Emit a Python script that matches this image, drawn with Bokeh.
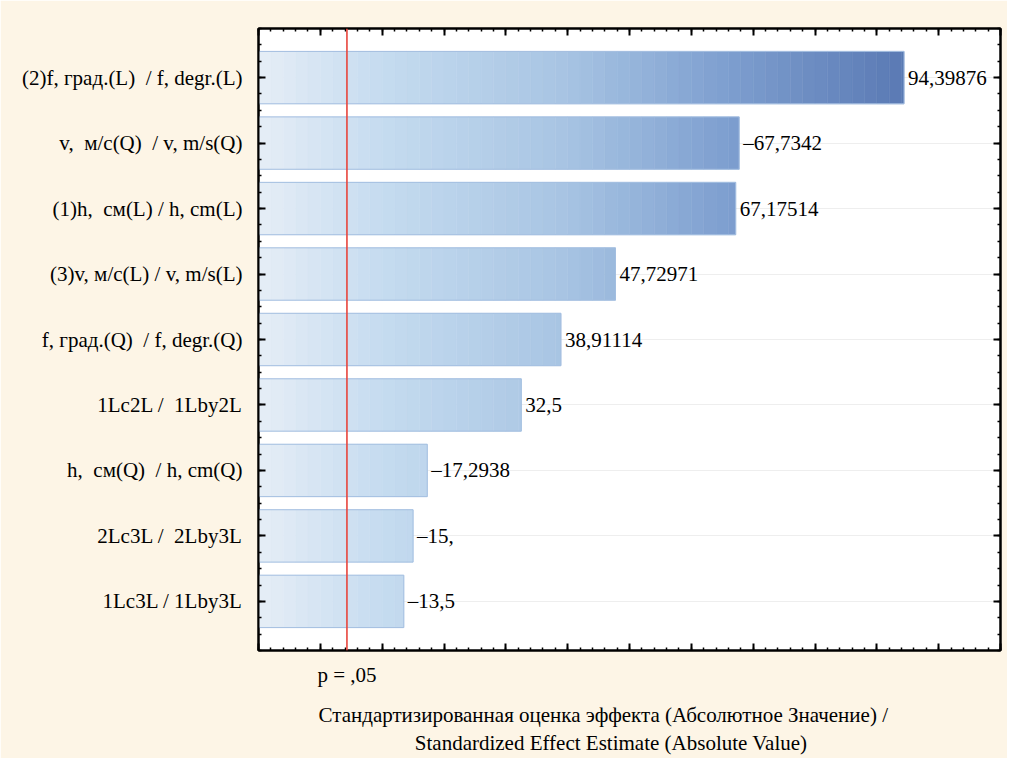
import numpy as np
from bokeh.plotting import figure
from bokeh.models import Range1d, FixedTicker, LinearAxis, Span, ColumnDataSource
from bokeh.core.properties import value
from bokeh.embed import file_html
from bokeh.resources import INLINE

# ---- data ----
NB = "\u00a0"
categories = [
    "(2)f, град.(L)" + NB + " / f, degr.(L)",
    "v," + NB + " м/с(Q)" + NB + " / v, m/s(Q)",
    "(1)h," + NB + " см(L) / h, cm(L)",
    "(3)v, м/с(L) / v, m/s(L)",
    "f, град.(Q)" + NB + " / f, degr.(Q)",
    "1Lс2L /" + NB + " 1Lby2L",
    "h," + NB + " см(Q)" + NB + " / h, cm(Q)",
    "2Lс3L /" + NB + " 2Lby3L",
    "1Lс3L / 1Lby3L",
]
effects = [94.39876, -67.7342, 67.17514, 47.72971, 38.91114, 32.5, -17.2938, -15.0, -13.5]
value_labels = ["94,39876", "–67,7342", "67,17514", "47,72971", "38,91114",
                "32,5", "–17,2938", "–15,", "–13,5"]
p_critical = 4.303
p_label = "p = ,05"
x_title = ("Стандартизированная оценка эффекта (Абсолютное Значение) /" + NB * 10 + "\n"
           "Standardized Effect Estimate (Absolute Value)" + NB * 7)
x_start, x_end = -10, 110

FONT = "Liberation Serif"
CREAM = "#FDF5E6"
FS = "21px"

n = len(categories)
idx = list(range(n))
abs_vals = [abs(v) for v in effects]

p = figure(frame_width=742, frame_height=622,
           x_range=Range1d(x_start, x_end), y_range=Range1d(n - 0.25, -0.75),
           output_backend="svg", toolbar_location=None,
           min_border_left=258, min_border_right=7, min_border_top=28, min_border_bottom=104)
p.border_fill_color = CREAM
p.background_fill_color = "white"
p.outline_line_color = "black"
p.outline_line_width = 2

# gradient strips (colour depends on absolute x position)
stop_x = [-10, 10, 40, 65, 95]
stop_c = [(0xE6, 0xEE, 0xF7), (0xC6, 0xDC, 0xF0), (0xA7, 0xC4, 0xE3), (0x7F, 0xA0, 0xD0), (0x5A, 0x79, 0xB4)]

def grad(xv):
    r = np.interp(xv, stop_x, [c[0] for c in stop_c])
    g = np.interp(xv, stop_x, [c[1] for c in stop_c])
    b = np.interp(xv, stop_x, [c[2] for c in stop_c])
    return "#%02x%02x%02x" % (int(r), int(g), int(b))

L, R, B, T, C = [], [], [], [], []
for i, a in zip(idx, abs_vals):
    edges = np.append(np.arange(x_start, a, 2.0), a)
    for l, r in zip(edges[:-1], edges[1:]):
        L.append(l); R.append(r); B.append(i - 0.4); T.append(i + 0.4)
        C.append(grad((l + r) / 2))
strips = ColumnDataSource(dict(left=L, right=R, bottom=B, top=T, color=C))
p.quad(left="left", right="right", bottom="bottom", top="top", fill_color="color",
       line_color="color", line_width=0.5, source=strips)

bars = ColumnDataSource(dict(y=idx, right=abs_vals, lab=value_labels))
p.hbar(y="y", left=x_start, right="right", height=0.8, fill_color=None,
       line_color="#A3BEE0", line_width=1, source=bars)
p.text(x="right", y="y", text="lab", x_offset=4, text_baseline="middle",
       text_font=value(FONT), text_font_size=FS, text_color="black", source=bars)

p.add_layout(Span(location=p_critical, dimension="height", line_color="#E8453C", line_width=1.6))

# tickers
xticks = list(range(x_start, x_end + 1, 10))
xt = FixedTicker(ticks=xticks, minor_ticks=list(range(x_start, x_end + 1, 2)))
yt = FixedTicker(ticks=idx, minor_ticks=list(np.arange(-0.75, n, 0.25)))

def style_axis(ax):
    ax.axis_line_color = "black"
    ax.axis_line_width = 2
    ax.major_tick_in = 7
    ax.major_tick_out = 0
    ax.minor_tick_in = 3
    ax.minor_tick_out = 0
    ax.major_tick_line_width = 2
    ax.minor_tick_line_width = 1.5
    ax.major_tick_line_color = "black"
    ax.minor_tick_line_color = "black"

blank_x = {t: "" for t in xticks}
blank_y = {t: "" for t in idx}

xa = p.xaxis[0]
xa.ticker = xt
style_axis(xa)
xa.major_label_overrides = blank_x
xa.major_label_text_font_size = "8px"
xa.major_label_standoff = 0

ya = p.yaxis[0]
ya.ticker = yt
style_axis(ya)
ya.major_label_overrides = {i: c for i, c in zip(idx, categories)}
ya.major_label_text_font = FONT
ya.major_label_text_font_size = FS
ya.major_label_text_color = "black"
ya.major_label_standoff = 16

top = LinearAxis(ticker=xt, major_label_overrides=blank_x,
                 major_label_text_font_size="8px", major_label_standoff=0)
style_axis(top)
p.add_layout(top, "above")
right = LinearAxis(ticker=yt, major_label_overrides=blank_y,
                   major_label_text_font_size="8px", major_label_standoff=0)
style_axis(right)
p.add_layout(right, "right")

pax = LinearAxis(ticker=FixedTicker(ticks=[p_critical]),
                 major_label_overrides={p_critical: p_label},
                 axis_line_color=None, major_tick_line_color=None, minor_tick_line_color=None,
                 major_label_text_font=FONT, major_label_text_font_size=FS,
                 major_label_text_color="black", major_label_standoff=6,
                 axis_label=x_title, axis_label_text_font=FONT, axis_label_text_font_size=FS,
                 axis_label_text_font_style="normal", axis_label_text_color="black",
                 axis_label_standoff=13)
p.add_layout(pax, "below")

p.xgrid.visible = False
p.ygrid.ticker = yt
p.ygrid.grid_line_color = "#EEEEEE"

open("out.html", "w").write(file_html(p, INLINE))
